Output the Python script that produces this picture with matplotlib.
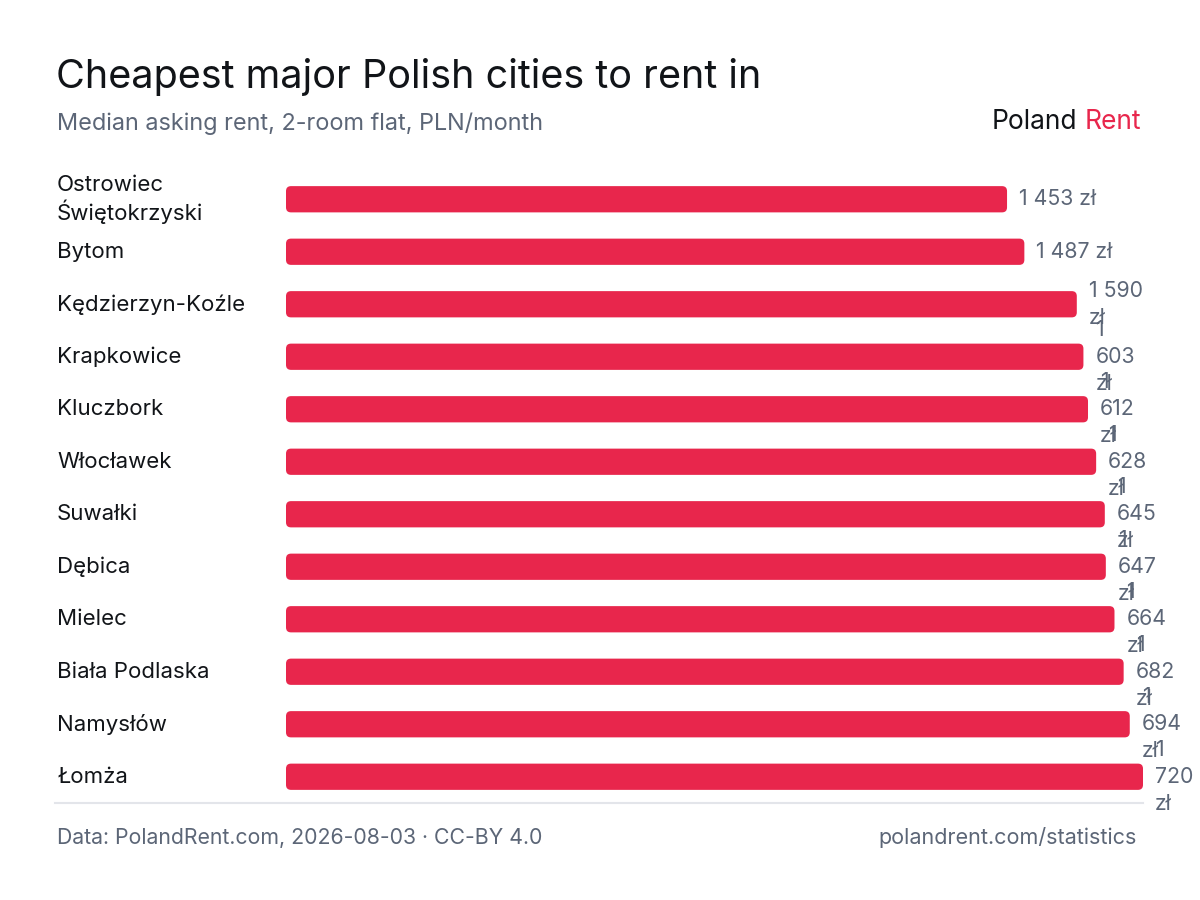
import matplotlib
matplotlib.use("Agg")
import matplotlib.pyplot as plt
from matplotlib.patches import FancyBboxPatch

plt.rcParams['font.family'] = ['Inter', 'DejaVu Sans']

cities = ["Ostrowiec\nŚwiętokrzyski", "Bytom", "Kędzierzyn-Koźle", "Krapkowice",
          "Kluczbork", "Włocławek", "Suwałki", "Dębica", "Mielec",
          "Biała Podlaska", "Namysłów", "Łomża"]
rents = [1453, 1487, 1590, 1603, 1612, 1628, 1645, 1647, 1664, 1682, 1694, 1720]

RED = "#e8264c"
GREY = "#5c6677"
DARK = "#111418"

W, H = 1200, 900
fig = plt.figure(figsize=(12, 9), dpi=100)
fig.patch.set_facecolor("white")

def fx(px):
    return px / W

def fy(px):
    return 1 - px / H

X0 = 37  # scale domain does not start at zero in the original
ax = fig.add_axes([fx(286), fy(803), fx(1143) - fx(286), (803 - 173) / H])
ax.set_xlim(X0, max(rents))
ax.set_ylim(len(cities) - 0.5, -0.5)
ax.axis("off")

bars = ax.barh(range(len(cities)), rents, height=0.5, color=RED)
# swap plain bars for rounded ones (radius ~5px)
px_per_x = (1143 - 286) / (max(rents) - X0)
px_per_y = (803 - 173) / len(cities)
for b in bars:
    x0 = max(b.get_x(), X0)
    y0 = b.get_y()
    w, h = b.get_x() + b.get_width() - x0, b.get_height()
    b.set_visible(False)
    r = 5 / px_per_x
    patch = FancyBboxPatch((x0, y0), w, h,
                           boxstyle=f"round,pad=0,rounding_size={r}",
                           mutation_aspect=px_per_x / px_per_y,
                           fc=RED, ec="none")
    ax.add_patch(patch)

def label_text(v):
    s = f"{v:,}".replace(",", " ")
    if v < 1500:
        return s + " zł"
    if v < 1600:
        return s + "\nzł"
    th, rest = s.split(" ")
    return th + "\n" + rest + "\nzł"

for i, v in enumerate(rents):
    ax.annotate(label_text(v), xy=(v, i), xytext=(12, 0), textcoords="offset pixels",
                ha="left", va="center", fontsize=15.3, color=GREY,
                linespacing=1.45, annotation_clip=False)

# city labels
for i, c in enumerate(cities):
    ax.annotate(c, xy=(0, i), xycoords=("figure fraction", "data"),
                xytext=(57, 0), textcoords="offset pixels",
                ha="left", va="center", fontsize=16, color=DARK, linespacing=1.2)

# baseline rule
fig.add_artist(plt.Line2D([fx(55), fx(1143)], [fy(803), fy(803)],
                          color="#e3e5ea", lw=1.5))

fig.text(fx(56), fy(88), "Cheapest major Polish cities to rent in", fontsize=28.5,
         color=DARK, ha="left", va="baseline")
fig.text(fx(57), fy(130), "Median asking rent, 2-room flat, PLN/month", fontsize=16.9,
         color=GREY, ha="left", va="baseline")
fig.text(fx(992), fy(129), "Poland", fontsize=19, color=DARK, ha="left", va="baseline")
fig.text(fx(1141), fy(129), "Rent", fontsize=19, color=RED, ha="right", va="baseline")

fig.text(fx(57), fy(844), "Data: PolandRent.com, 2026-08-03 · CC-BY 4.0", fontsize=15.3,
         color=GREY, ha="left", va="baseline")
fig.text(fx(1137), fy(844), "polandrent.com/statistics", fontsize=15.5,
         color=GREY, ha="right", va="baseline")

fig.savefig("out.png", dpi=100)
